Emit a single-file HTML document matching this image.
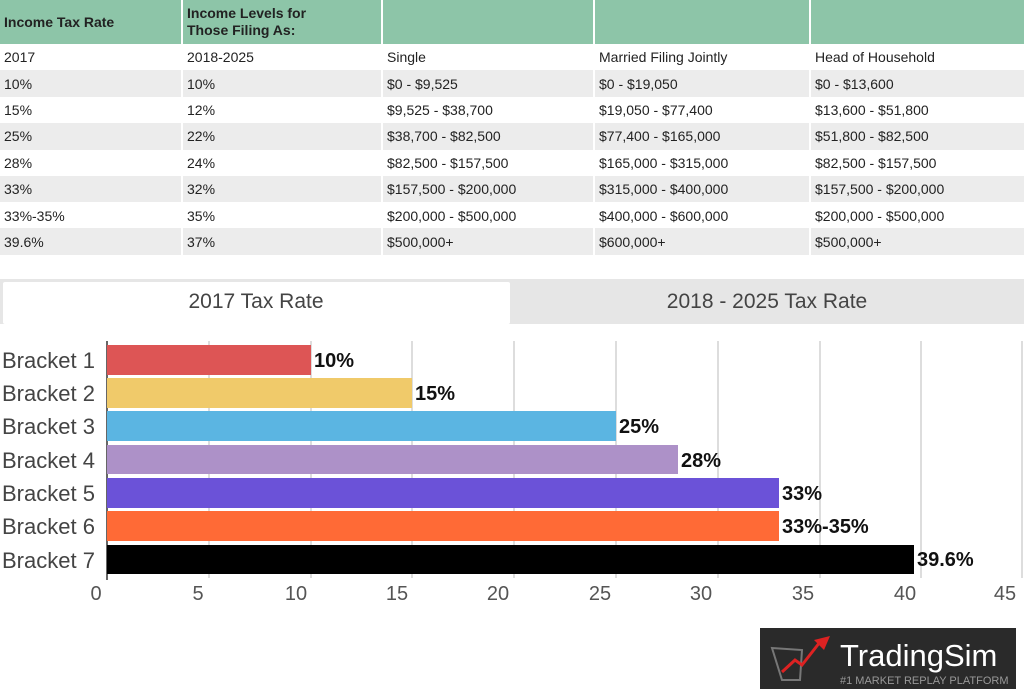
<!DOCTYPE html>
<html><head><style>
body{margin:0;width:1024px;height:693px;background:#fff;font-family:"Liberation Sans",sans-serif;position:relative;overflow:hidden}
.c{position:absolute;box-sizing:border-box;padding-left:4px;font-size:14px;color:#222;display:flex;align-items:center}
.a{position:absolute}
</style></head><body>
<div id="t"></div>
<svg class="a" style="left:0;top:0" width="1024" height="693">
<!-- tabs -->
<rect x="0" y="279" width="1024" height="45" fill="#e6e6e6"/>
<rect x="3" y="282" width="507" height="42" fill="#fff" rx="2"/>
<text x="256" y="308" font-size="21" fill="#444" text-anchor="middle" font-family="Liberation Sans">2017 Tax Rate</text>
<text x="767" y="308" font-size="21" fill="#444" text-anchor="middle" font-family="Liberation Sans">2018 - 2025 Tax Rate</text>
<!-- grid -->
<g stroke="#bbb" stroke-width="1">
<line x1="209" y1="341" x2="209" y2="578"/><line x1="311" y1="341" x2="311" y2="578"/>
<line x1="412" y1="341" x2="412" y2="578"/><line x1="514" y1="341" x2="514" y2="578"/>
<line x1="616" y1="341" x2="616" y2="578"/><line x1="718" y1="341" x2="718" y2="578"/>
<line x1="820" y1="341" x2="820" y2="578"/><line x1="921" y1="341" x2="921" y2="578"/>
<line x1="1022" y1="341" x2="1022" y2="578"/>
</g>
<line x1="107" y1="341" x2="107" y2="580" stroke="#333" stroke-width="1.5"/>
<g>
<rect x="107" y="345" width="204" height="30" fill="#dd5555"/>
<rect x="107" y="378" width="305" height="30" fill="#f0ca6a"/>
<rect x="107" y="411" width="509" height="30" fill="#5bb5e2"/>
<rect x="107" y="445" width="571" height="29" fill="#ad91c8"/>
<rect x="107" y="478" width="672" height="30" fill="#6b52d8"/>
<rect x="107" y="511" width="672" height="30" fill="#ff6a36"/>
<rect x="107" y="545" width="807" height="29" fill="#000"/>
</g>
<g font-size="20" font-weight="bold" fill="#111" font-family="Liberation Sans">
<text x="314" y="367">10%</text><text x="415" y="400">15%</text><text x="619" y="433">25%</text>
<text x="681" y="467">28%</text><text x="782" y="500">33%</text><text x="782" y="533">33%-35%</text>
<text x="917" y="566">39.6%</text>
</g>
<g font-size="22" fill="#444" font-family="Liberation Sans">
<text x="2" y="368">Bracket 1</text><text x="2" y="401">Bracket 2</text><text x="2" y="434">Bracket 3</text>
<text x="2" y="468">Bracket 4</text><text x="2" y="501">Bracket 5</text><text x="2" y="534">Bracket 6</text>
<text x="2" y="568">Bracket 7</text>
</g>
<g font-size="20" fill="#555" text-anchor="middle" font-family="Liberation Sans">
<text x="96" y="600">0</text><text x="198" y="600">5</text><text x="296" y="600">10</text><text x="397" y="600">15</text>
<text x="498" y="600">20</text><text x="600" y="600">25</text><text x="701" y="600">30</text><text x="803" y="600">35</text>
<text x="905" y="600">40</text><text x="1005" y="600">45</text>
</g>
<!-- logo -->
<rect x="760" y="628" width="256" height="61" fill="#2a2a2a"/>
<path d="M772 648 L802 650 L800 680 L782 680 Z" fill="none" stroke="#777" stroke-width="2"/>
<path d="M782 672 L795 660 L802 665 L820 642" fill="none" stroke="#d22" stroke-width="3"/>
<path d="M814 640 L830 636 L824 650 Z" fill="#d22"/>
<text x="840" y="666" font-size="31" fill="#fff" font-family="Liberation Sans">TradingSim</text>
<text x="840" y="684" font-size="11" fill="#999" font-family="Liberation Sans">#1 MARKET REPLAY PLATFORM</text>
</svg>
<script></script>
<div class="a" style="left:0;top:0;width:1024px;height:44px;background:#8dc5a8"></div>
<div class="a" style="left:0;top:44px;width:1024px;height:211px">
<div class="a" style="top:26px;width:1024px;height:27px;background:#ececec"></div>
<div class="a" style="top:79px;width:1024px;height:27px;background:#ececec"></div>
<div class="a" style="top:132px;width:1024px;height:26px;background:#ececec"></div>
<div class="a" style="top:184px;width:1024px;height:27px;background:#ececec"></div>
</div>
<div class="a" style="left:181px;top:0;width:2px;height:255px;background:#fff"></div>
<div class="a" style="left:381px;top:0;width:2px;height:255px;background:#fff"></div>
<div class="a" style="left:593px;top:0;width:2px;height:255px;background:#fff"></div>
<div class="a" style="left:809px;top:0;width:2px;height:255px;background:#fff"></div>
<div class="c" style="left:0;top:0;height:44px;font-weight:bold">Income Tax Rate</div>
<div class="c" style="left:183px;top:0;height:44px;font-weight:bold;line-height:17px">Income Levels for<br>Those Filing As:</div>
<div style="position:absolute;left:0;top:44px;font-size:14px;color:#222">
<table style="border-collapse:collapse;font-family:'Liberation Sans',sans-serif;font-size:14px;color:#222">
<colgroup><col style="width:183px"><col style="width:200px"><col style="width:212px"><col style="width:216px"><col style="width:213px"></colgroup>
<tr style="height:26.4px"><td style="padding-left:4px">2017</td><td style="padding-left:4px">2018-2025</td><td style="padding-left:4px">Single</td><td style="padding-left:4px">Married Filing Jointly</td><td style="padding-left:4px">Head of Household</td></tr>
<tr style="height:26.4px"><td style="padding-left:4px">10%</td><td style="padding-left:4px">10%</td><td style="padding-left:4px">$0 - $9,525</td><td style="padding-left:4px">$0 - $19,050</td><td style="padding-left:4px">$0 - $13,600</td></tr>
<tr style="height:26.4px"><td style="padding-left:4px">15%</td><td style="padding-left:4px">12%</td><td style="padding-left:4px">$9,525 - $38,700</td><td style="padding-left:4px">$19,050 - $77,400</td><td style="padding-left:4px">$13,600 - $51,800</td></tr>
<tr style="height:26.4px"><td style="padding-left:4px">25%</td><td style="padding-left:4px">22%</td><td style="padding-left:4px">$38,700 - $82,500</td><td style="padding-left:4px">$77,400 - $165,000</td><td style="padding-left:4px">$51,800 - $82,500</td></tr>
<tr style="height:26.4px"><td style="padding-left:4px">28%</td><td style="padding-left:4px">24%</td><td style="padding-left:4px">$82,500 - $157,500</td><td style="padding-left:4px">$165,000 - $315,000</td><td style="padding-left:4px">$82,500 - $157,500</td></tr>
<tr style="height:26.4px"><td style="padding-left:4px">33%</td><td style="padding-left:4px">32%</td><td style="padding-left:4px">$157,500 - $200,000</td><td style="padding-left:4px">$315,000 - $400,000</td><td style="padding-left:4px">$157,500 - $200,000</td></tr>
<tr style="height:26.4px"><td style="padding-left:4px">33%-35%</td><td style="padding-left:4px">35%</td><td style="padding-left:4px">$200,000 - $500,000</td><td style="padding-left:4px">$400,000 - $600,000</td><td style="padding-left:4px">$200,000 - $500,000</td></tr>
<tr style="height:26.4px"><td style="padding-left:4px">39.6%</td><td style="padding-left:4px">37%</td><td style="padding-left:4px">$500,000+</td><td style="padding-left:4px">$600,000+</td><td style="padding-left:4px">$500,000+</td></tr>
</table></div>
</body></html>
